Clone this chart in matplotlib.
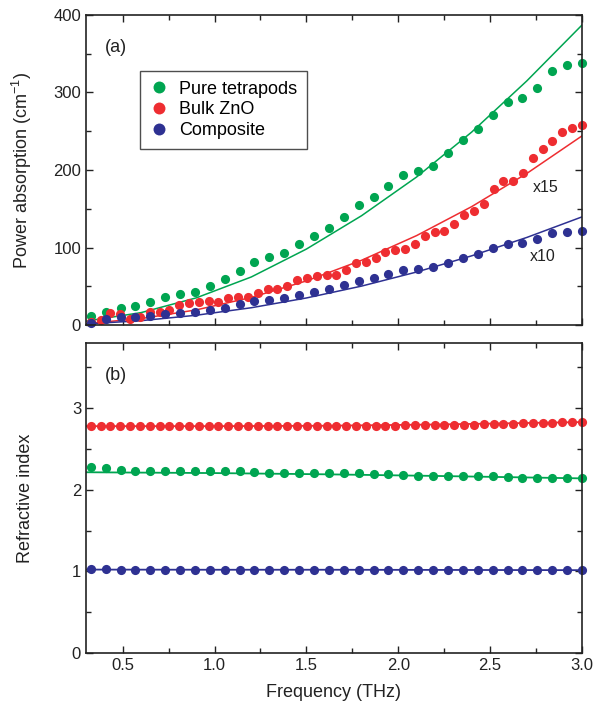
import numpy as np
import matplotlib
matplotlib.use("Agg")
import matplotlib.pyplot as plt

plt.rcParams['font.family'] = ['Liberation Sans', 'DejaVu Sans']
plt.rcParams['mathtext.default'] = 'regular'

GREEN = '#00a551'
RED = '#ee2d31'
BLUE = '#2e3192'

# frequency grids (THz)
f_coarse = np.linspace(0.326, 3.0, 34)   # pure tetrapods, composite
f_fine = np.linspace(0.326, 3.0, 51)     # bulk ZnO

# (a) power absorption (cm^-1)
abs_tetra = [11.6, 17, 21.5, 25, 30, 36.6, 39.6, 43, 50.7, 59, 69.7, 81.7, 87.3, 93.3,
             104, 114.8, 124.7, 139.7, 154.8, 165.6, 179.4, 193.5, 199, 205.5, 221.5,
             238.7, 252.5, 271.4, 287.7, 292.9, 305.4, 327.7, 335.5, 338.5]
abs_bulk = [4.3, 6.5, 15, 14, 7.3, 10, 16.3, 16.3, 20, 25.8, 28, 30, 31.4, 30, 34.4,
            36.6, 36.6, 40.9, 46, 46, 50.3, 58, 61, 63.2, 64.5, 64.5, 71, 79.6, 81.7,
            86, 93.8, 96.8, 97.7, 104, 114.8, 119.6, 121.3, 130, 142, 147, 156, 175,
            185.8, 185.8, 196.5, 215, 226.7, 237.8, 249.4, 253.8, 258]
abs_comp = [3, 7.7, 10.8, 10.8, 12, 13.8, 15, 16.3, 19.4, 22.4, 26.7, 31, 32.3, 34.4,
            38.7, 43, 46.5, 51.6, 56.8, 61, 65.8, 71, 72.3, 75.3, 80.4, 86.9, 91.6,
            99, 104.5, 105.4, 110.6, 118.3, 120.4, 121.3]

# fitted curves
f_fit = [0.3, 0.6, 0.9, 1.2, 1.5, 1.8, 2.1, 2.4, 2.7, 3.0]
fit_tetra = [5, 16, 35, 62, 98, 141, 191, 249, 315, 387]
fit_bulk = [1.9, 8.3, 19.5, 35.6, 56.9, 83.5, 115.4, 152.8, 195.6, 244]
fit_comp = [1.4, 5.6, 12.6, 22.3, 34.9, 50.2, 68.4, 89.3, 113, 139.5]

# (b) refractive index
n_tetra = [2.28, 2.27, 2.24, 2.23, 2.23, 2.225, 2.225, 2.225, 2.225, 2.225, 2.23, 2.22,
           2.21, 2.21, 2.21, 2.20, 2.21, 2.21, 2.20, 2.19, 2.19, 2.18, 2.17, 2.17, 2.17,
           2.17, 2.17, 2.17, 2.16, 2.145, 2.15, 2.15, 2.14, 2.14]
n_bulk = [2.78] * 30 + [2.785, 2.785, 2.79, 2.79, 2.79, 2.795, 2.795, 2.80, 2.80, 2.80,
                        2.805, 2.81, 2.81, 2.81, 2.815, 2.815, 2.82, 2.82, 2.825, 2.825, 2.83]
n_comp = [1.025, 1.025, 1.02, 1.02, 1.02, 1.02, 1.02, 1.02, 1.02, 1.02, 1.02, 1.02,
          1.02, 1.02, 1.02, 1.02, 1.02, 1.02, 1.02, 1.02, 1.02, 1.02, 1.02, 1.02, 1.02,
          1.02, 1.02, 1.02, 1.02, 1.02, 1.015, 1.015, 1.015, 1.015]

fn_fit = [0.3, 1.0, 1.6, 2.2, 3.0]
nfit_tetra = [2.215, 2.205, 2.19, 2.17, 2.14]
nfit_bulk = [2.78, 2.78, 2.785, 2.80, 2.83]
nfit_comp = [1.022, 1.02, 1.02, 1.018, 1.015]

fig = plt.figure(figsize=(5.95, 7.17), dpi=100)
ax1 = fig.add_axes([0.1445, 0.5467, 0.8336, 0.4324])
ax2 = fig.add_axes([0.1445, 0.0893, 0.8336, 0.4324])

ms = 6.6
lw = 1.1
ax1.plot(f_fit, fit_tetra, color=GREEN, lw=lw)
ax1.plot(f_fit, fit_bulk, color=RED, lw=lw)
ax1.plot(f_fit, fit_comp, color=BLUE, lw=lw)
ax1.plot(f_coarse, abs_tetra, 'o', color=GREEN, ms=ms, mew=0, label='Pure tetrapods', clip_on=False)
ax1.plot(f_fine, abs_bulk, 'o', color=RED, ms=ms, mew=0, label='Bulk ZnO', clip_on=False)
ax1.plot(f_coarse, abs_comp, 'o', color=BLUE, ms=ms, mew=0, label='Composite', clip_on=False)

ax2.plot(fn_fit, nfit_tetra, color=GREEN, lw=1.3)
ax2.plot(fn_fit, nfit_bulk, color=RED, lw=1.3)
ax2.plot(fn_fit, nfit_comp, color=BLUE, lw=1.3)
ax2.plot(f_coarse, n_tetra, 'o', color=GREEN, ms=ms, mew=0, clip_on=False)
ax2.plot(f_fine, n_bulk, 'o', color=RED, ms=ms, mew=0, clip_on=False)
ax2.plot(f_coarse, n_comp, 'o', color=BLUE, ms=ms, mew=0, clip_on=False)

for ax in (ax1, ax2):
    ax.set_xlim(0.3, 3.0)
    ax.set_xticks([0.5, 1.0, 1.5, 2.0, 2.5, 3.0])
    ax.set_xticks(np.arange(0.75, 3.0, 0.5), minor=True)
    ax.tick_params(which='both', direction='in', top=True, right=True,
                   labelsize=12, colors='#222222', width=1.0)
    ax.tick_params(which='major', length=5)
    ax.tick_params(which='minor', length=3.5)
    for s in ax.spines.values():
        s.set_linewidth(1.2)
        s.set_color('#222222')

ax1.set_ylim(0, 400)
ax1.set_yticks([0, 100, 200, 300, 400])
ax1.set_yticks([50, 150, 250, 350], minor=True)
ax1.tick_params(labelbottom=False)
ax1.set_ylabel('Power absorption (cm$^{-1}$)', fontsize=13, color='#222222')
ax1.yaxis.set_label_coords(-0.105, 0.5)
ax1.text(0.038, 0.895, '(a)', transform=ax1.transAxes, fontsize=13, va='center', color='#222222')
ax1.text(2.73, 178, 'x15', fontsize=11.5, va='center', color='#222222')
ax1.text(2.715, 88, 'x10', fontsize=11.5, va='center', color='#222222')

leg = ax1.legend(loc='upper left', bbox_to_anchor=(0.109, 0.82), fontsize=13,
                 frameon=True, fancybox=False, edgecolor='#222222', handlelength=1.0,
                 handletextpad=0.6, borderpad=0.55, labelspacing=0.2, borderaxespad=0,
                 markerscale=1.3)
leg.get_frame().set_linewidth(1.0)

ax2.set_ylim(0, 3.8)
ax2.set_yticks([0, 1, 2, 3])
ax2.set_yticks([0.5, 1.5, 2.5, 3.5], minor=True)
ax2.set_xticklabels(['0.5', '1.0', '1.5', '2.0', '2.5', '3.0'])
ax2.set_ylabel('Refractive index', fontsize=13, color='#222222')
ax2.yaxis.set_label_coords(-0.105, 0.5)
ax2.set_xlabel('Frequency (THz)', fontsize=13, color='#222222', labelpad=8)
ax2.text(0.038, 0.895, '(b)', transform=ax2.transAxes, fontsize=13, va='center', color='#222222')

fig.savefig('out.png', dpi=100)
